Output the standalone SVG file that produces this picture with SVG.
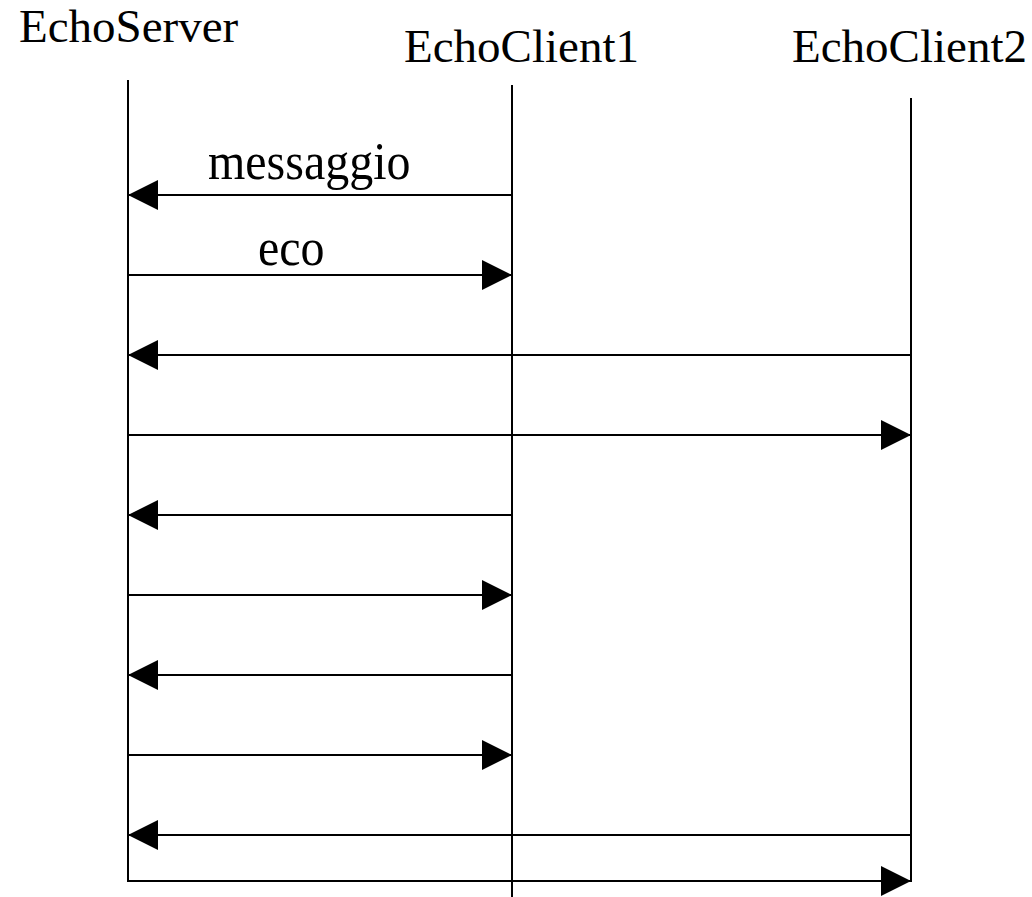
<svg xmlns="http://www.w3.org/2000/svg" width="1032" height="897" viewBox="0 0 1032 897">
<style>
text{font-family:"Liberation Serif","Times New Roman",serif;font-size:47px;fill:#000}
.lbl{font-size:48px}
.life{stroke:#000;stroke-width:2;fill:none}
.msg{stroke:#000;stroke-width:2;fill:none}
</style>
<defs>
<marker id="ah" viewBox="0 0 30 30" refX="30" refY="15" markerWidth="30" markerHeight="30" markerUnits="userSpaceOnUse" orient="auto">
<path d="M0,0 L30,15 L0,30 Z" fill="#000"/>
</marker>
</defs>
<rect width="1032" height="897" fill="#fff"/>
<g id="EchoServer">
<text x="19" y="42">EchoServer</text>
<line class="life" x1="128" y1="80" x2="128" y2="882"/>
</g>
<g id="EchoClient1">
<text x="404" y="62">EchoClient1</text>
<line class="life" x1="512" y1="85" x2="512" y2="897"/>
</g>
<g id="EchoClient2">
<text x="792" y="62">EchoClient2</text>
<line class="life" x1="911" y1="98" x2="911" y2="882"/>
</g>
<g id="connectors">
<line class="msg" x1="512" y1="195" x2="128" y2="195" marker-end="url(#ah)"/>
<text class="lbl" transform="translate(208,179) scale(1,1.1)">messaggio</text>
<line class="msg" x1="128" y1="275" x2="512" y2="275" marker-end="url(#ah)"/>
<text class="lbl" transform="translate(258,265) scale(1,1.1)">eco</text>
<line class="msg" x1="911" y1="355" x2="128" y2="355" marker-end="url(#ah)"/>
<line class="msg" x1="128" y1="435" x2="911" y2="435" marker-end="url(#ah)"/>
<line class="msg" x1="512" y1="515" x2="128" y2="515" marker-end="url(#ah)"/>
<line class="msg" x1="128" y1="595" x2="512" y2="595" marker-end="url(#ah)"/>
<line class="msg" x1="512" y1="675" x2="128" y2="675" marker-end="url(#ah)"/>
<line class="msg" x1="128" y1="755" x2="512" y2="755" marker-end="url(#ah)"/>
<line class="msg" x1="911" y1="835" x2="128" y2="835" marker-end="url(#ah)"/>
<line class="msg" x1="128" y1="881" x2="911" y2="881" marker-end="url(#ah)"/>
</g>
</svg>
